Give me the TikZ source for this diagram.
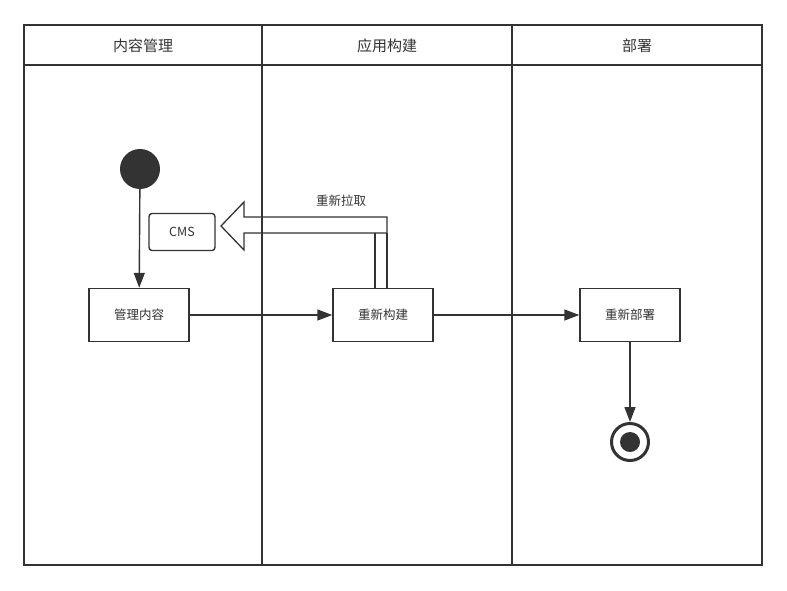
\documentclass[tikz,border=0pt]{standalone}
\usepackage{fontspec}
\setmainfont{Noto Sans CJK SC}
\usetikzlibrary{arrows.meta}
\definecolor{ink}{HTML}{333333}
\begin{document}
\begin{tikzpicture}[x=1pt,y=-1pt,
  lane/.style={draw=ink,line width=1.6pt},
  box/.style={draw=ink,line width=1.4pt,fill=white,minimum width=100pt,minimum height=53pt,inner sep=0pt,font=\fontsize{12.5}{14}\selectfont,text=ink},
  hdr/.style={font=\fontsize{15}{18}\selectfont,text=ink},
  flow/.style={draw=ink,line width=1.4pt,-{Triangle[length=15pt,width=11pt]}},
  hollow/.style={draw=ink,line width=1.3pt}]
\useasboundingbox (0,0) rectangle (787,590);
% swimlanes
\draw[lane] (24,25) rectangle (762,565);
\draw[lane] (24,65) -- (762,65);
\draw[lane] (262,25) -- (262,565);
\draw[lane] (512,25) -- (512,565);
\node[hdr] (h1) at (143,46) {内容管理};
\node[hdr] (h2) at (387,46) {应用构建};
\node[hdr] (h3) at (637,46) {部署};
% nodes
\node[circle,fill=ink,minimum size=40pt,inner sep=0pt] (start) at (140,169) {};
\node[box] (manage) at (139,315) {管理内容};
\node[box] (build) at (383,315) {重新构建};
\node[box] (deploy) at (630,315) {重新部署};
\node[draw=ink,line width=1.4pt,rounded corners=3pt,minimum width=66pt,minimum height=37pt,inner sep=0pt,font=\fontsize{12.5}{14}\selectfont,text=ink] (cms) at (182,232) {CMS};
\node[circle,draw=ink,line width=3pt,minimum size=37pt,inner sep=0pt] (end) at (630,442) {};
\fill[ink] (end.center) circle (10pt);
% connectors
\draw[flow] (start) -- (manage);
\draw[flow] (manage) -- (build);
\draw[flow] (build) -- (deploy);
\draw[flow] (deploy) -- (end);
% hollow "re-fetch" arrow
\coordinate (bt) at (build.north);
\draw[hollow] ([xshift=4pt]bt |- 0,217) -- (244,217) -- (244,202) -- (221,226) -- (244,250) -- (244,233) -- ([xshift=4pt]bt |- 0,233) -- cycle;
\draw[hollow] ([xshift=-8pt]bt) -- ([xshift=-8pt]bt |- 0,233);
\draw[hollow] ([xshift=4pt]bt) -- ([xshift=4pt]bt |- 0,233);
\node[font=\fontsize{12.5}{14}\selectfont,text=ink] (pull) at (341,201) {重新拉取};
\end{tikzpicture}
\end{document}
